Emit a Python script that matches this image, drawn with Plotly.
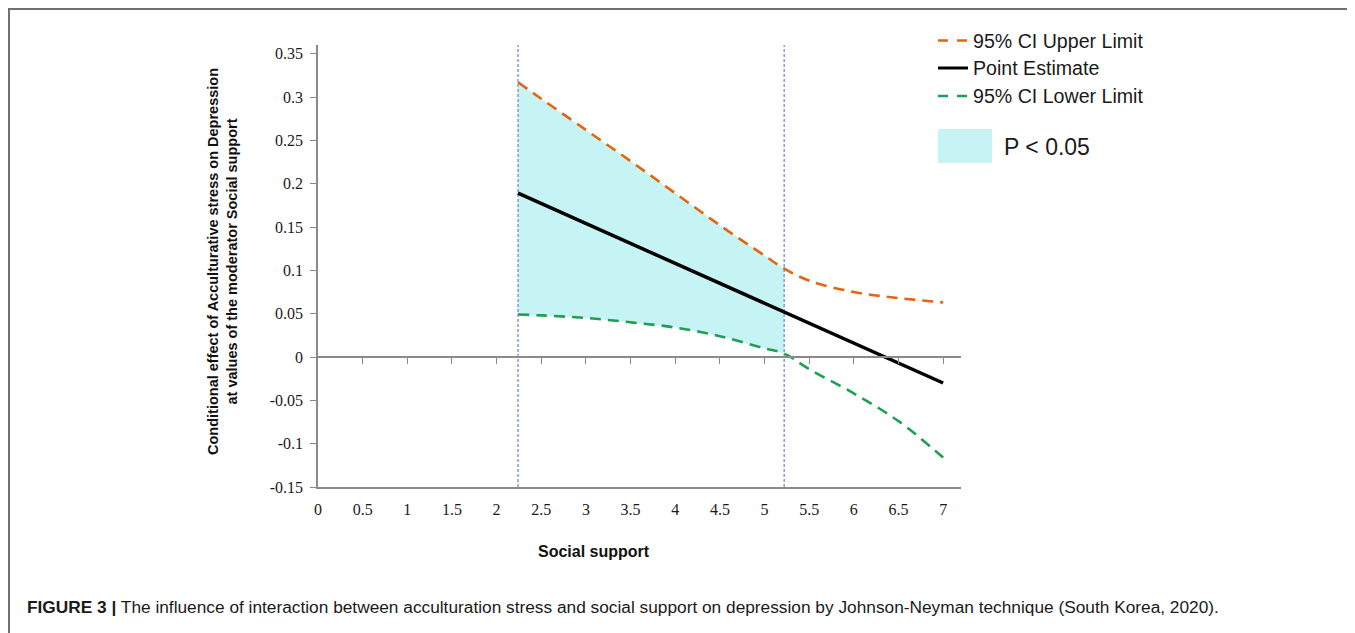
import plotly.graph_objects as go

# ---------------- data ----------------
social_support = [2.24, 2.5, 3.0, 3.5, 4.0, 4.5, 5.0, 5.22, 5.5, 6.0, 6.5, 7.0]
upper_limit    = [0.317, 0.298, 0.262, 0.226, 0.189, 0.152, 0.117, 0.102, 0.088, 0.075, 0.068, 0.063]
point_estimate = [0.189, 0.177, 0.154, 0.131, 0.108, 0.085, 0.062, 0.052, 0.039, 0.016, -0.007, -0.030]
lower_limit    = [0.049, 0.048, 0.045, 0.040, 0.034, 0.024, 0.010, 0.004, -0.014, -0.042, -0.074, -0.116]
jn_points = [2.24, 5.22]           # Johnson-Neyman region of significance bounds
y_span = [-0.15, 0.36]

x_tickvals = [0, 0.5, 1, 1.5, 2, 2.5, 3, 3.5, 4, 4.5, 5, 5.5, 6, 6.5, 7]
x_ticktext = ["0", "0.5", "1", "1.5", "2", "2.5", "3", "3.5", "4", "4.5", "5", "5.5", "6", "6.5", "7"]
y_tickvals = [0.35, 0.3, 0.25, 0.2, 0.15, 0.1, 0.05, 0, -0.05, -0.1, -0.15]
y_ticktext = ["0.35", "0.3", "0.25", "0.2", "0.15", "0.1", "0.05", "0", "-0.05", "-0.1", "-0.15"]

legend_labels = ["95% CI Upper Limit", "Point Estimate", "95% CI Lower Limit"]
sig_label = "P < 0.05"
x_title = "Social support"
y_title = "Conditional effect of Acculturative stress on Depression<br>at values of the moderator Social support"
caption = ("<b>FIGURE 3 |</b> The influence of interaction between acculturation stress and social support "
           "on depression by Johnson-Neyman technique (South Korea, 2020).")

# ---------------- style ----------------
ORANGE = "#E2650F"
GREEN = "#1E9F52"
BLACK = "#000000"
CYAN = "#C6F4F4"
VBLUE = "#7D94D4"
AXIS = "#8a8a8a"

OFF = 8  # page body margin offset
W, H = 1355, 633
ML = 318 - OFF
MT = 45 - OFF
MB = H - (487 - OFF)
MR = W - (961 - OFF)
PW, PH = W - ML - MR, H - MT - MB


def px_x(px):
    return (px - OFF - ML) / PW


def px_y(py):
    return (H - MB - (py - OFF)) / PH


X_RANGE = [0, 7.2]
Y_RANGE = [-0.15, 0.36]

fig = go.Figure()

# significance region fill (between lower and upper within J-N bounds)
sig_idx = [i for i, v in enumerate(social_support) if jn_points[0] <= v <= jn_points[1]]
sx = [social_support[i] for i in sig_idx]
fig.add_trace(go.Scatter(x=sx, y=[lower_limit[i] for i in sig_idx], mode="lines",
                         line=dict(width=0, shape="spline", color=CYAN), showlegend=False,
                         hoverinfo="skip"))
fig.add_trace(go.Scatter(x=sx, y=[upper_limit[i] for i in sig_idx], mode="lines",
                         line=dict(width=0, shape="spline", color=CYAN), fill="tonexty",
                         fillcolor=CYAN, name=sig_label, showlegend=False, hoverinfo="skip"))

# vertical J-N lines
for jx in jn_points:
    fig.add_trace(go.Scatter(x=[jx, jx], y=y_span, mode="lines",
                             line=dict(color=VBLUE, width=1.4, dash="3px,2px"),
                             showlegend=False, hoverinfo="skip"))

fig.add_trace(go.Scatter(x=social_support, y=upper_limit, mode="lines", name=legend_labels[0],
                         line=dict(color=ORANGE, width=2.6, dash="11px,7px", shape="spline"),
                         showlegend=False))
fig.add_trace(go.Scatter(x=social_support, y=lower_limit, mode="lines", name=legend_labels[2],
                         line=dict(color=GREEN, width=2.6, dash="11px,7px", shape="spline"),
                         showlegend=False))
fig.add_trace(go.Scatter(x=social_support, y=point_estimate, mode="lines", name=legend_labels[1],
                         line=dict(color=BLACK, width=3.5), showlegend=False))

tick_font = dict(family="Liberation Serif", size=16, color="#1a1a1a")

fig.update_layout(
    width=W, height=H,
    margin=dict(l=ML, r=MR, t=MT, b=MB),
    paper_bgcolor="white", plot_bgcolor="white",
    showlegend=False,
    xaxis=dict(range=X_RANGE, tickvals=x_tickvals, ticktext=x_ticktext, showgrid=False,
               zeroline=False, showline=True, linecolor=AXIS, linewidth=1.5, ticks="",
               tickfont=tick_font, ticklabelstandoff=7, automargin=False),
    xaxis2=dict(range=X_RANGE, overlaying="x", anchor="free", position=(0 - Y_RANGE[0]) / (Y_RANGE[1] - Y_RANGE[0]),
                side="bottom", showgrid=False, zeroline=False, showline=True, linecolor=AXIS,
                linewidth=1.5, ticks="outside", ticklen=6, tickcolor=AXIS,
                tickvals=x_tickvals[1:], showticklabels=False, automargin=False),
    yaxis=dict(range=Y_RANGE, tickvals=y_tickvals, ticktext=y_ticktext, showgrid=False,
               zeroline=False, showline=True, linecolor=AXIS, linewidth=1.5, ticks="outside",
               ticklen=6, tickcolor=AXIS, tickfont=tick_font, ticklabelstandoff=4, automargin=False),
)

# dummy trace to activate xaxis2
fig.add_trace(go.Scatter(x=[None], y=[None], xaxis="x2", showlegend=False, hoverinfo="skip"))

annotations = []
shapes = []

# axis titles
annotations.append(dict(text=f"<b>{x_title}</b>", x=px_x(594), y=px_y(551), xref="paper", yref="paper",
                        showarrow=False, xanchor="center", yanchor="middle",
                        font=dict(family="Liberation Sans", size=16, color="#111")))
annotations.append(dict(text=f"<b>{y_title}</b>", x=px_x(222), y=px_y(262), xref="paper", yref="paper",
                        showarrow=False, xanchor="center", yanchor="middle", textangle=-90,
                        font=dict(family="Liberation Sans", size=14.5, color="#111")))

# manual legend
legend_rows = [(40.5, ORANGE, 2.6, "10px,9px"), (68, BLACK, 3, "solid"), (96, GREEN, 2.6, "10px,9px")]
for (ly, col, lw, dsh), lab in zip(legend_rows, legend_labels):
    shapes.append(dict(type="line", xref="paper", yref="paper", x0=px_x(938), x1=px_x(968),
                       y0=px_y(ly), y1=px_y(ly), line=dict(color=col, width=lw, dash=dsh)))
    annotations.append(dict(text=lab, x=px_x(971), y=px_y(ly), xref="paper", yref="paper",
                            showarrow=False, xanchor="left", yanchor="middle",
                            font=dict(family="Liberation Sans", size=19.6, color="#1a1a1a")))
shapes.append(dict(type="rect", xref="paper", yref="paper", x0=px_x(938), x1=px_x(992),
                   y0=px_y(129), y1=px_y(163), fillcolor=CYAN, line=dict(width=0)))
annotations.append(dict(text=sig_label, x=px_x(1002), y=px_y(147), xref="paper", yref="paper",
                        showarrow=False, xanchor="left", yanchor="middle",
                        font=dict(family="Liberation Sans", size=23, color="#1a1a1a")))

# frame around the figure
shapes.append(dict(type="rect", xref="paper", yref="paper", x0=px_x(9), x1=px_x(1352),
                   y0=px_y(660), y1=px_y(9), line=dict(color="#707070", width=2), layer="below"))

# caption
annotations.append(dict(text=caption, x=px_x(25), y=px_y(607), xref="paper", yref="paper",
                        showarrow=False, xanchor="left", yanchor="middle",
                        font=dict(family="Liberation Sans", size=17.3, color="#1a1a1a")))

fig.update_layout(annotations=annotations, shapes=shapes)
fig.write_html("out.html")
